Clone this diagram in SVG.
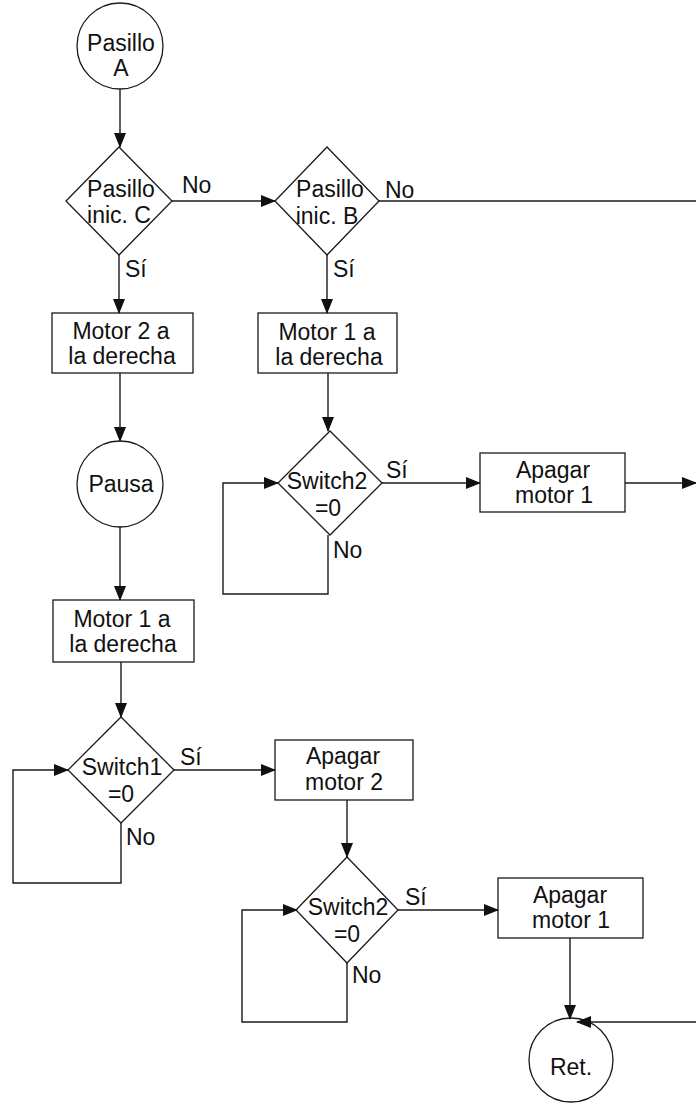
<svg xmlns="http://www.w3.org/2000/svg" width="696" height="1103" viewBox="0 0 696 1103">
<style>
.s{fill:#fff;stroke:#1a1a1a;stroke-width:1.3}
.c{fill:none;stroke:#1a1a1a;stroke-width:1.4}
.t{font-family:"Liberation Sans",Arial,sans-serif;font-size:23px;fill:#111;text-anchor:middle}
.l{font-family:"Liberation Sans",Arial,sans-serif;font-size:23px;fill:#111;text-anchor:start}
</style>
<defs>
<marker id="ah" markerUnits="userSpaceOnUse" markerWidth="15" markerHeight="12" refX="14" refY="6" orient="auto" viewBox="0 0 15 12">
<path d="M0,0 L15,6 L0,12 z" fill="#111"/>
</marker>
</defs>
<rect width="696" height="1103" fill="#fff"/>
<g id="pasilloA">
<circle class="s" cx="120" cy="46" r="43"/>
<text class="t" x="121" y="51">Pasillo</text>
<text class="t" x="121" y="76">A</text>
</g>
<g id="decC">
<polygon class="s" points="119,147 172,201 119,255 66,201"/>
<text class="t" x="121" y="197">Pasillo</text>
<text class="t" x="119" y="223">inic. C</text>
</g>
<g id="decB">
<polygon class="s" points="327,147 379,201 327,255 275,201"/>
<text class="t" x="330" y="197">Pasillo</text>
<text class="t" x="327" y="224">inic. B</text>
</g>
<g id="motor2der">
<rect class="s" x="52" y="313" width="141" height="60"/>
<text class="t" x="121" y="339">Motor 2 a</text>
<text class="t" x="122" y="364">la derecha</text>
</g>
<g id="motor1derB">
<rect class="s" x="258" y="313" width="139" height="60"/>
<text class="t" x="327" y="340">Motor 1 a</text>
<text class="t" x="329" y="365">la derecha</text>
</g>
<g id="pausa">
<circle class="s" cx="120" cy="484" r="43"/>
<text class="t" x="121" y="492">Pausa</text>
</g>
<g id="switch2a">
<polygon class="s" points="330,431 382,483 330,535 278,483"/>
<text class="t" x="327" y="489">Switch2</text>
<text class="t" x="328" y="516">=0</text>
</g>
<g id="apagar1a">
<rect class="s" x="480" y="453" width="145" height="59"/>
<text class="t" x="553" y="478">Apagar</text>
<text class="t" x="554" y="503">motor 1</text>
</g>
<g id="motor1derA">
<rect class="s" x="53" y="600" width="141" height="62"/>
<text class="t" x="122" y="627">Motor 1 a</text>
<text class="t" x="123" y="652">la derecha</text>
</g>
<g id="switch1">
<polygon class="s" points="121,717 174,770 121,823 68,770"/>
<text class="t" x="122" y="775">Switch1</text>
<text class="t" x="121" y="802">=0</text>
</g>
<g id="apagar2">
<rect class="s" x="275" y="740" width="138" height="60"/>
<text class="t" x="343" y="764">Apagar</text>
<text class="t" x="344" y="790">motor 2</text>
</g>
<g id="switch2b">
<polygon class="s" points="347,857 398,910 347,963 296,910"/>
<text class="t" x="348" y="915">Switch2</text>
<text class="t" x="347" y="942">=0</text>
</g>
<g id="apagar1b">
<rect class="s" x="498" y="878" width="145" height="60"/>
<text class="t" x="570" y="903">Apagar</text>
<text class="t" x="571" y="928">motor 1</text>
</g>
<g id="ret">
<circle class="s" cx="571" cy="1060" r="42"/>
<text class="t" x="571" y="1075">Ret.</text>
</g>
<g id="connectors">
<path class="c" d="M120,89 V147" marker-end="url(#ah)"/>
<path class="c" d="M172,201 H275" marker-end="url(#ah)"/>
<path class="c" d="M379,201 H696"/>
<path class="c" d="M119,255 V313" marker-end="url(#ah)"/>
<path class="c" d="M327,255 V313" marker-end="url(#ah)"/>
<path class="c" d="M120,373 V441" marker-end="url(#ah)"/>
<path class="c" d="M328,373 V431" marker-end="url(#ah)"/>
<path class="c" d="M382,483 H480" marker-end="url(#ah)"/>
<path class="c" d="M328,535 V594 H223 V483 H278" marker-end="url(#ah)"/>
<path class="c" d="M625,483 H696" marker-end="url(#ah)"/>
<path class="c" d="M120,527 V600" marker-end="url(#ah)"/>
<path class="c" d="M121,662 V717" marker-end="url(#ah)"/>
<path class="c" d="M174,770 H275" marker-end="url(#ah)"/>
<path class="c" d="M121,823 V883 H13 V770 H68" marker-end="url(#ah)"/>
<path class="c" d="M347,800 V857" marker-end="url(#ah)"/>
<path class="c" d="M398,910 H498" marker-end="url(#ah)"/>
<path class="c" d="M347,963 V1022 H242 V910 H297" marker-end="url(#ah)"/>
<path class="c" d="M570,938 V1019" marker-end="url(#ah)"/>
<path class="c" d="M696,1022 H577" marker-end="url(#ah)"/>
<text class="l" x="182" y="193">No</text>
<text class="l" x="125" y="277">Sí</text>
<text class="l" x="385" y="198">No</text>
<text class="l" x="333" y="277">Sí</text>
<text class="l" x="386" y="478">Sí</text>
<text class="l" x="333" y="558">No</text>
<text class="l" x="180" y="765">Sí</text>
<text class="l" x="126" y="845">No</text>
<text class="l" x="405" y="905">Sí</text>
<text class="l" x="352" y="983">No</text>
</g>
</svg>
